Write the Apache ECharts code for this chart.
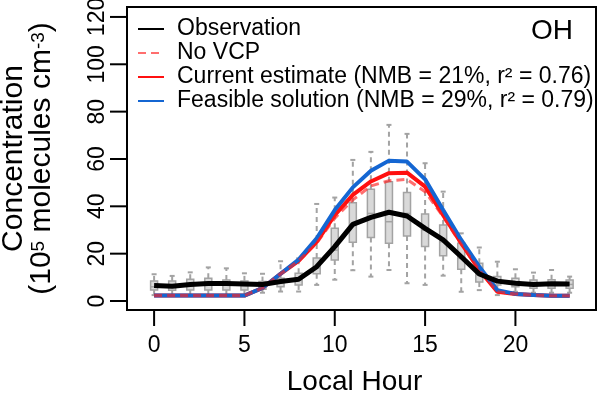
<!DOCTYPE html>
<html>
<head>
<meta charset="utf-8">
<script src="https://cdn.jsdelivr.net/npm/echarts@6/dist/echarts.min.js"></script>
<style>
  html, body { margin: 0; padding: 0; background: #fff; }
  #chart { width: 600px; height: 395px; }
</style>
</head>
<body>
<div id="chart"></div>
<script>
const hours = [0, 1, 2, 3, 4, 5, 6, 7, 8, 9, 10, 11, 12, 13, 14, 15, 16, 17, 18, 19, 20, 21, 22, 23]
const xTicks = [0, 5, 10, 15, 20]
const yTicks = [0, 20, 40, 60, 80, 100, 120]
const xRange = [-1.5, 24.46]
const yRange = [-3.8, 124.2]

// lines
const observation = [6.5, 6.2, 7, 7.4, 7.4, 7.2, 7, 8.2, 9.2, 14.5, 23, 32.4, 35.3, 37.5, 35.9, 30.7, 25.8, 18.7, 11.4, 8.4, 7.5, 7, 7.3, 7.2]
const noVcp = [2.3, 2.3, 2.3, 2.3, 2.3, 2.3, 5.5, 11.5, 17, 24.5, 35, 42.7, 48.6, 50.8, 51.4, 46.2, 35.6, 24, 13, 3.9, 3, 2.5, 2.2, 2.2]
const current = [2.3, 2.3, 2.3, 2.3, 2.3, 2.3, 5.5, 11.5, 17, 25, 36.3, 44.8, 50.5, 54, 54.2, 48.3, 36.3, 24.4, 13.1, 3.9, 3, 2.5, 2.2, 2.2]
const feasible = [2.3, 2.3, 2.3, 2.3, 2.3, 2.3, 5.5, 11.5, 17.5, 26.5, 38.4, 48, 55, 59.3, 58.9, 51.4, 38.4, 25.8, 14.5, 4.6, 3, 2.5, 2.2, 2.2]

// observation boxplots
const boxMin = [2.5, 2.5, 2.5, 2.5, 2.5, 2.5, 3.5, 4, 4, 6.8, 9, 13, 10.3, 13.1, 7.5, 6.8, 10.7, 3.9, 4.6, 2.5, 3.9, 3.5, 3.5, 3.5]
const boxQ1 = [4.6, 4.5, 4.6, 4.6, 4.6, 4.6, 5, 6, 6.8, 11.5, 17.3, 24.8, 26.8, 24.4, 27.5, 23, 19.1, 13.4, 8, 6.8, 6, 5.4, 5.4, 5.4]
const boxMed = [6, 6, 6.5, 7, 7, 6.5, 6, 7.5, 9, 14, 21.5, 32, 37, 33.5, 37, 30, 25, 18, 11, 8.5, 7.5, 7, 7, 7]
const boxQ3 = [8.5, 8.5, 9.2, 9.6, 8.9, 8.5, 8.2, 9.6, 11.7, 18.2, 30.7, 41.5, 47.2, 50.4, 45.8, 36.8, 32.1, 24.4, 15.9, 10.3, 9.6, 8.9, 9, 8.9]
const boxMax = [11.3, 10.6, 12.1, 14.2, 13.8, 11.7, 11.5, 16.8, 18, 41, 43.7, 59.6, 63, 74.4, 70.6, 58.2, 46.2, 28.6, 22.6, 16.6, 13.4, 12, 13.1, 10.3]

const FONT = '"Liberation Sans", Arial, sans-serif'
const GREY = '#a3a3a3'

const pairs = arr => hours.map((h, i) => [h, arr[i]])
const boxData = hours.map((h, i) => [h, boxMin[i], boxQ1[i], boxMed[i], boxQ3[i], boxMax[i]])

function renderBox(params, api) {
  const x = api.value(0)
  const pMin = api.coord([x, api.value(1)])
  const pQ1 = api.coord([x, api.value(2)])
  const pMed = api.coord([x, api.value(3)])
  const pQ3 = api.coord([x, api.value(4)])
  const pMax = api.coord([x, api.value(5)])
  const cx = pMin[0]
  const hw = 3.5
  const cap = 2.5
  const line = (x1, y1, x2, y2, dash) => ({
    type: 'line',
    shape: { x1, y1, x2, y2 },
    style: { stroke: GREY, lineWidth: 2, lineDash: dash ? [5, 4] : null },
  })
  return {
    type: 'group',
    children: [
      line(cx, pQ3[1], cx, pMax[1], true),
      line(cx, pQ1[1], cx, pMin[1], true),
      line(cx - cap, pMax[1], cx + cap, pMax[1]),
      line(cx - cap, pMin[1], cx + cap, pMin[1]),
      {
        type: 'rect',
        shape: { x: cx - hw, y: pQ3[1], width: hw * 2, height: pQ1[1] - pQ3[1] },
        style: { fill: '#d9d9d9', stroke: GREY, lineWidth: 1.5 },
      },
      {
        type: 'line',
        shape: { x1: cx - hw, y1: pMed[1], x2: cx + hw, y2: pMed[1] },
        style: { stroke: GREY, lineWidth: 1.5 },
      },
    ],
  }
}

// R-style outward ticks, placed through the axis scales
function renderYTick(params, api) {
  const p = api.coord([xRange[0], api.value(1)])
  return { type: 'line', shape: { x1: p[0] - 17, y1: p[1], x2: p[0], y2: p[1] }, style: { stroke: '#000', lineWidth: 2 } }
}
function renderXTick(params, api) {
  const p = api.coord([api.value(0), yRange[0]])
  return { type: 'line', shape: { x1: p[0], y1: p[1], x2: p[0], y2: p[1] + 16 }, style: { stroke: '#000', lineWidth: 2 } }
}

const chart = echarts.init(document.getElementById('chart'), null, { renderer: 'canvas' })

chart.setOption({
  animation: false,
  textStyle: { fontFamily: FONT },
  grid: {
    left: 127, right: 4, top: 7, bottom: 85,
    containLabel: false,
    outerBoundsMode: 'none',
    show: true, borderColor: '#000', borderWidth: 2, backgroundColor: 'transparent',
  },
  legend: {
    orient: 'vertical',
    left: 132,
    top: 12,
    itemWidth: 26,
    itemHeight: 14,
    itemGap: 0,
    selectedMode: false,
    lineStyle: { width: 2 },
    itemStyle: { opacity: 0 },
    textStyle: { fontSize: 23, color: '#000', fontFamily: FONT, lineHeight: 24, padding: [0, 0, 0, 8] },
    data: [
      'Observation',
      'No VCP',
      'Current estimate (NMB = 21%, r² = 0.76)',
      'Feasible solution (NMB = 29%, r² = 0.79)',
    ],
  },
  graphic: [{
    type: 'text',
    right: 27,
    top: 17,
    style: { text: 'OH', fontSize: 28, fontFamily: FONT, fill: '#000' },
  }],
  xAxis: {
    type: 'value',
    min: xRange[0],
    max: xRange[1],
    name: 'Local Hour',
    nameLocation: 'middle',
    nameGap: 58,
    nameMoveOverlap: false,
    nameTextStyle: { fontSize: 28, color: '#000', fontFamily: FONT, padding: [0, 14, 0, 0] },
    axisLine: { show: true, onZero: false, lineStyle: { color: '#000', width: 2 } },
    splitLine: { show: false },
    axisTick: { show: false },
    axisLabel: { fontSize: 23, color: '#000', margin: 24, customValues: xTicks },
  },
  yAxis: {
    type: 'value',
    min: yRange[0],
    max: yRange[1],
    name: '{t|Concentration}\n{t|(10}{s|5}{t| molecules cm}{s|-3}{t|)}',
    nameLocation: 'middle',
    nameRotate: 90,
    nameGap: 70,
    nameMoveOverlap: false,
    nameTextStyle: {
      color: '#000',
      fontFamily: FONT,
      rich: {
        t: { fontSize: 30, fontFamily: FONT, color: '#000', lineHeight: 28, verticalAlign: 'bottom' },
        s: { fontSize: 19, fontFamily: FONT, color: '#000', lineHeight: 28, verticalAlign: 'top' },
      },
    },
    axisLine: { show: true, onZero: false, lineStyle: { color: '#000', width: 2 } },
    splitLine: { show: false },
    axisTick: { show: false },
    axisLabel: { fontSize: 23, color: '#000', margin: 18, rotate: 90, customValues: yTicks },
  },
  series: [
    {
      name: 'yticks',
      type: 'custom',
      renderItem: renderYTick,
      data: yTicks.map(v => [0, v]),
      encode: { x: 0, y: 1 },
      clip: false,
      silent: true,
      z: 10,
    },
    {
      name: 'xticks',
      type: 'custom',
      renderItem: renderXTick,
      data: xTicks.map(v => [v, 0]),
      encode: { x: 0, y: 1 },
      clip: false,
      silent: true,
      z: 10,
    },
    {
      name: 'boxes',
      type: 'custom',
      renderItem: renderBox,
      data: boxData,
      encode: { x: 0, y: [1, 2, 3, 4, 5] },
      z: 1,
    },
    {
      name: 'Current estimate (NMB = 21%, r² = 0.76)',
      type: 'line',
      data: pairs(current),
      symbol: 'none',
      lineStyle: { color: '#ff1010', width: 4 },
      itemStyle: { color: '#ff1010' },
      z: 2,
    },
    {
      name: 'Feasible solution (NMB = 29%, r² = 0.79)',
      type: 'line',
      data: pairs(feasible),
      symbol: 'none',
      lineStyle: { color: '#1466d2', width: 4 },
      itemStyle: { color: '#1466d2' },
      z: 3,
    },
    {
      name: 'No VCP',
      type: 'line',
      data: pairs(noVcp),
      symbol: 'none',
      lineStyle: { color: '#ff2020', width: 3, type: [8, 5], opacity: 0.65 },
      itemStyle: { color: '#ff2020', opacity: 0.65 },
      z: 4,
    },
    {
      name: 'Observation',
      type: 'line',
      data: pairs(observation),
      symbol: 'none',
      lineStyle: { color: '#000', width: 5 },
      itemStyle: { color: '#000' },
      z: 5,
    },
  ],
})
</script>
</body>
</html>
